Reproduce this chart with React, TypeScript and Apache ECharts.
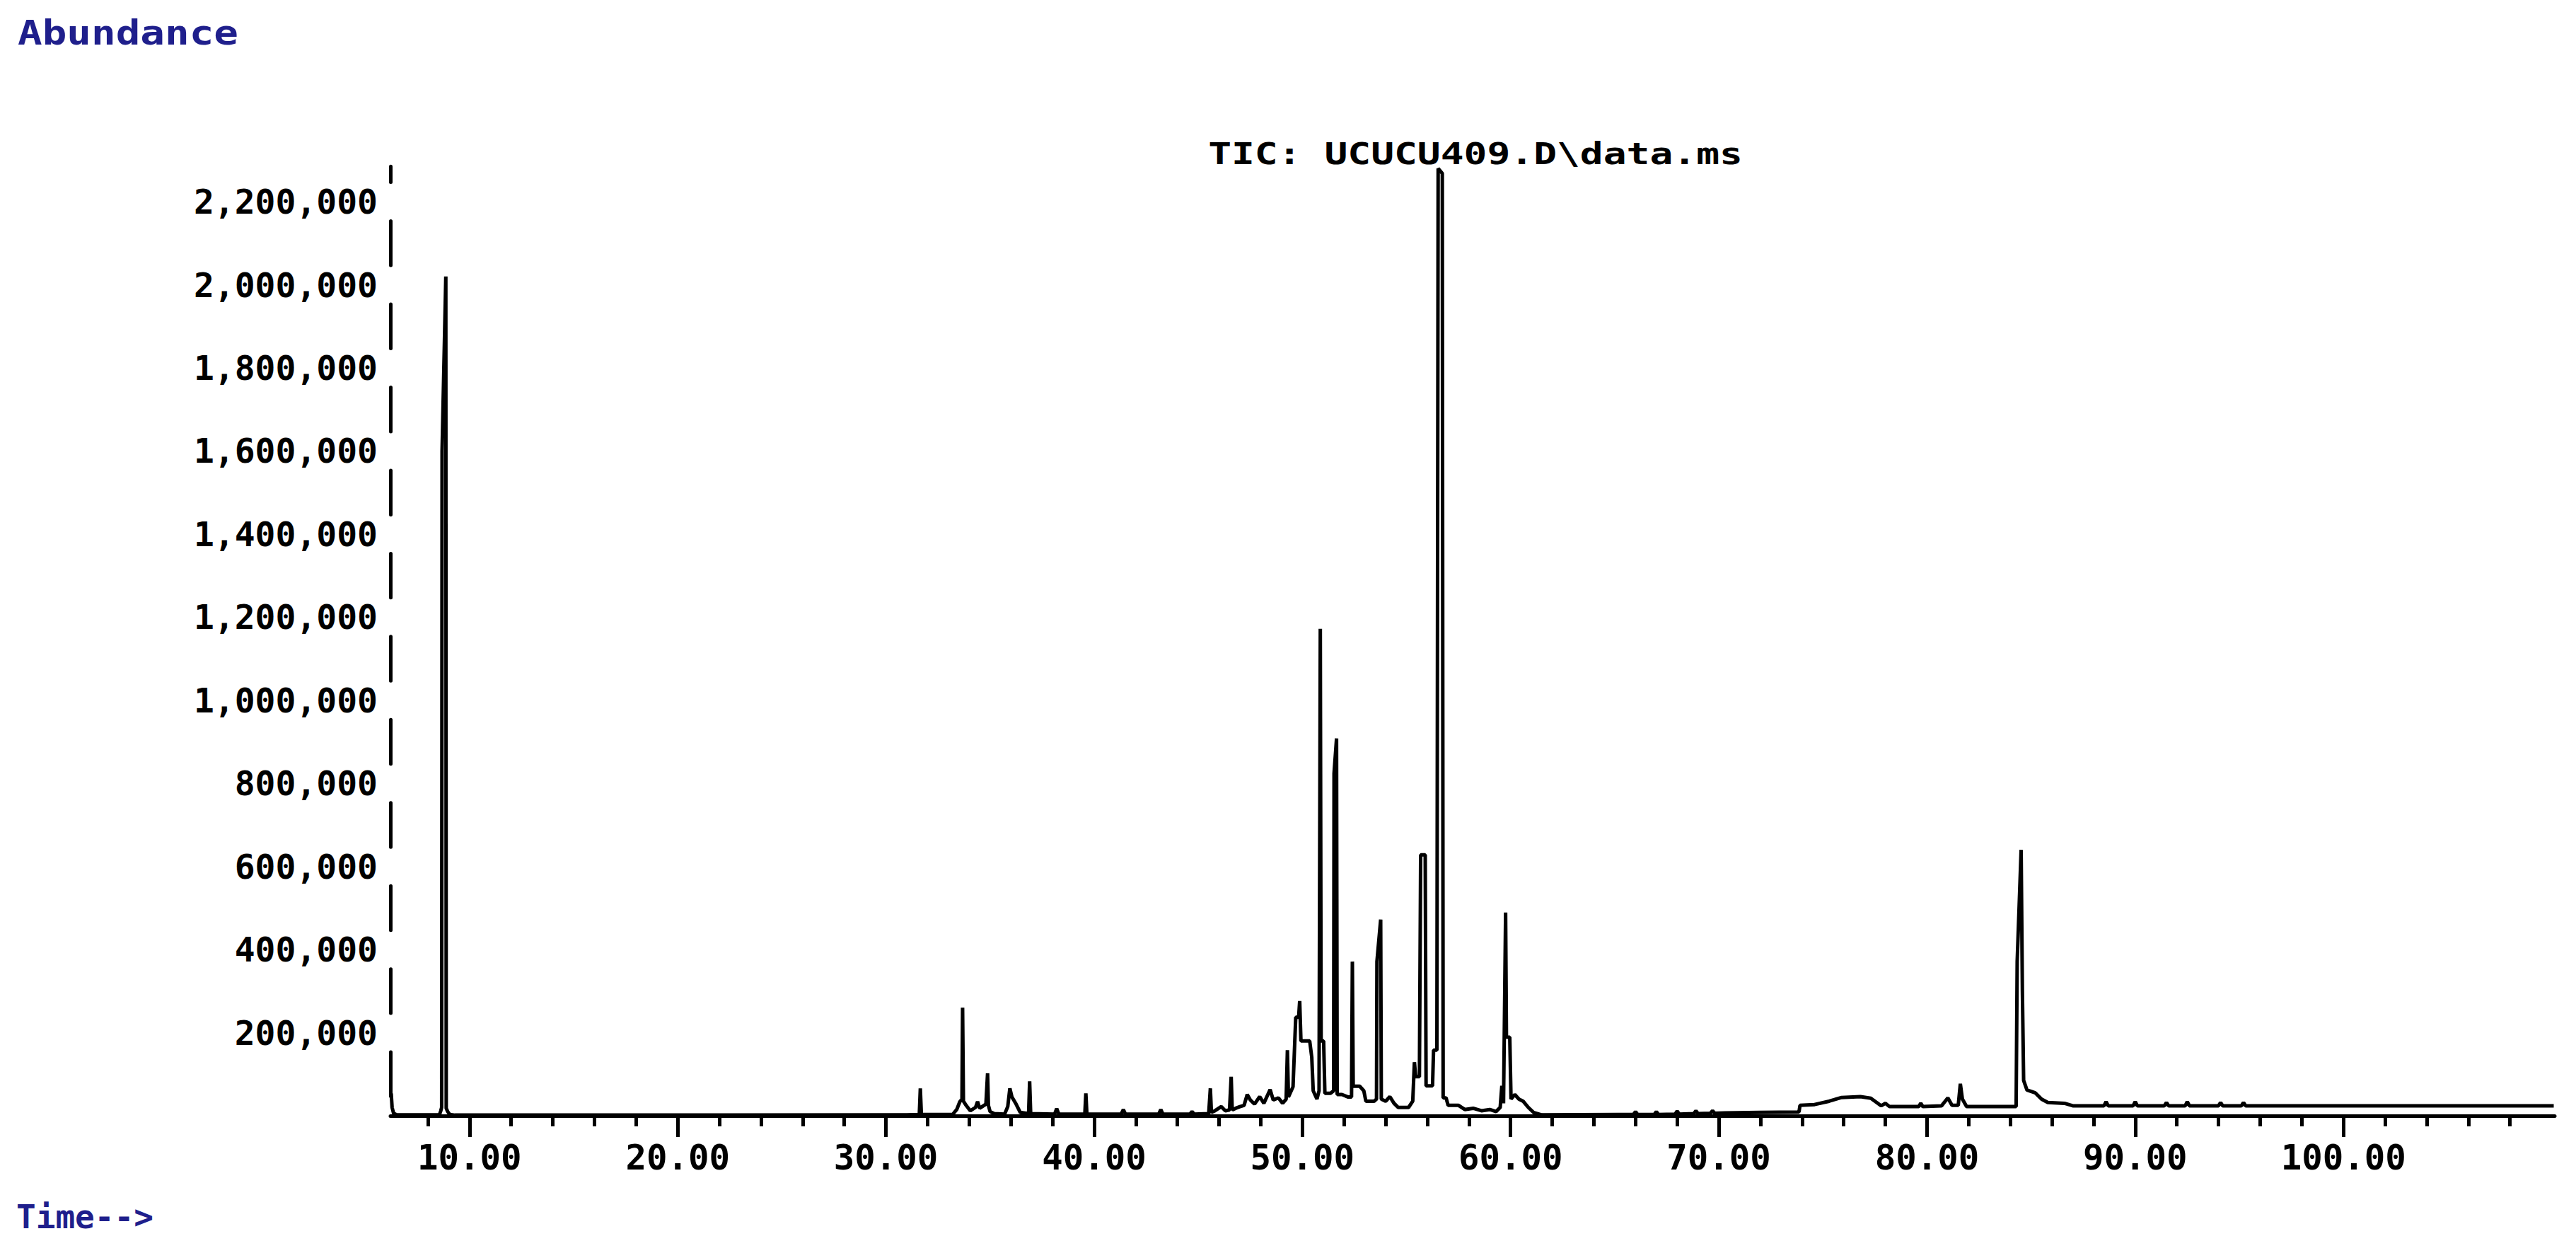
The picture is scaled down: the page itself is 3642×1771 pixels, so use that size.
import React, { useEffect, useRef } from "react";
import * as echarts from "echarts";

// ---- Data: [retention time (min), abundance] ----
const solventFront: number[][] = [
  [6.2, 55000], [6.24, 52000], [6.28, 20000], [6.35, 6000], [6.5, 2000],
  [8.55, 2000], [8.62, 12000], [8.66, 20000], [8.68, 1600000], [8.86, 2020000],
  [8.88, 18000], [8.95, 10000], [9.05, 3000], [9.3, 1500],
];

const earlyPeaks: number[][] = [
  [20.0, 1500], [31.0, 2000], [31.6, 3000], [31.65, 66000], [31.7, 3000],
  [33.2, 3000], [33.4, 15000], [33.55, 34000], [33.65, 40000], [33.68, 260000],
  [33.72, 35000], [33.85, 25000], [34.05, 12000], [34.3, 20000], [34.4, 34000],
  [34.5, 18000], [34.8, 28000], [34.88, 102000], [34.92, 25000], [35.0, 10000],
  [35.2, 5000], [35.7, 4000], [35.85, 22000], [35.95, 66000], [36.05, 45000],
  [36.25, 28000], [36.45, 8000], [36.85, 5000], [36.9, 83000], [36.95, 5000],
  [38.1, 4000], [38.2, 17000], [38.3, 4000], [39.55, 4000], [39.6, 54000],
  [39.65, 4000], [41.3, 4000], [41.4, 15000], [41.5, 4000], [43.1, 4000],
  [43.2, 15000], [43.3, 4000], [44.6, 4000], [44.7, 10000], [44.8, 4000],
  [45.5, 5000], [45.58, 66000], [45.63, 8000], [45.8, 12000], [46.1, 22000],
  [46.3, 12000], [46.5, 14000], [46.58, 94000], [46.63, 14000], [46.8, 18000],
  [47.0, 22000],
];

const mainCluster: number[][] = [
  [47.2, 25000], [47.35, 51000], [47.5, 38000], [47.7, 28000], [47.95, 46000],
  [48.15, 30000], [48.45, 63000], [48.6, 38000], [48.85, 43000], [49.05, 30000],
  [49.22, 40000], [49.28, 158000], [49.33, 45000], [49.55, 70000], [49.68, 237000],
  [49.82, 237000], [49.87, 276000], [49.93, 180000], [50.35, 180000], [50.45, 141000],
  [50.52, 60000], [50.7, 40000], [50.8, 60000], [50.86, 1172000], [50.9, 180000],
  [51.02, 180000], [51.08, 54000], [51.35, 54000], [51.5, 60000], [51.52, 824000],
  [51.64, 908000], [51.67, 51000], [51.9, 51000], [52.2, 45000], [52.36, 45000],
  [52.4, 371000], [52.44, 71000], [52.75, 71000], [52.95, 60000], [53.05, 35000],
  [53.45, 35000], [53.56, 40000], [53.58, 371000], [53.76, 472000], [53.79, 40000],
  [54.0, 35000], [54.2, 46000], [54.4, 30000], [54.6, 20000], [55.1, 20000],
  [55.3, 35000], [55.38, 129000], [55.44, 94000], [55.62, 94000], [55.68, 628000],
  [55.9, 628000], [55.94, 72000], [56.25, 72000], [56.3, 158000], [56.46, 158000],
  [56.52, 2280000], [56.72, 2268000], [56.76, 43000], [56.9, 43000], [57.0, 25000],
  [57.5, 25000], [57.8, 15000], [58.2, 18000], [58.6, 12000], [59.0, 15000],
  [59.3, 10000], [59.5, 20000], [59.58, 72000], [59.66, 30000], [59.76, 489000],
  [59.8, 189000], [59.96, 189000], [60.02, 40000], [60.2, 51000], [60.4, 40000],
  [60.6, 35000], [60.85, 20000], [61.1, 8000], [61.5, 2000],
];

const latePeaks: number[][] = [
  [65.9, 3000], [66.0, 10000], [66.1, 3000], [66.9, 3000], [67.0, 10000],
  [67.1, 3000], [67.9, 4000], [68.0, 11000], [68.1, 4000], [68.8, 5000],
  [68.9, 12000], [69.0, 5000], [69.6, 6000], [69.7, 12000], [69.8, 6000],
  [70.3, 7000], [72.0, 8000], [73.85, 9000], [73.9, 25000], [74.6, 27000],
  [75.3, 35000], [75.9, 44000], [76.8, 46000], [77.3, 42000], [77.8, 24000],
  [78.0, 30000], [78.2, 22000], [79.6, 22000], [79.7, 30000], [79.8, 22000],
  [80.7, 24000], [81.0, 43000], [81.2, 25000], [81.5, 25000], [81.6, 77000],
  [81.7, 40000], [81.9, 22000], [84.28, 22000], [84.33, 371000], [84.52, 640000],
  [84.58, 300000], [84.64, 85000], [84.8, 62000], [85.2, 55000], [85.5, 40000],
  [85.8, 32000], [86.6, 30000], [87.0, 24000], [88.5, 24000], [88.6, 34000],
  [88.7, 24000], [89.9, 24000], [90.0, 34000], [90.1, 24000], [91.4, 24000],
  [91.5, 32000], [91.6, 24000], [92.4, 24000], [92.5, 34000], [92.6, 24000],
  [94.0, 24000], [94.1, 32000], [94.2, 24000], [95.1, 24000], [95.2, 32000],
  [95.3, 24000], [110.1, 24000],
];

const xMajorTicks = [10, 20, 30, 40, 50, 60, 70, 80, 90, 100];
const xMinorTicks = [
  8, 12, 14, 16, 18, 22, 24, 26, 28, 32, 34, 36, 38, 42, 44, 46, 48, 52, 54, 56, 58,
  62, 64, 66, 68, 72, 74, 76, 78, 82, 84, 86, 88, 92, 94, 96, 98, 102, 104, 106, 108,
];
const yTicks = [200000, 400000, 600000, 800000, 1000000, 1200000, 1400000, 1600000, 1800000, 2000000, 2200000];

const X_MIN = 6.2;
const X_MAX = 110.15;
const Y_MAX = 2285000;

const MONO = "'DejaVu Sans Mono', 'Liberation Mono', monospace";

function withCommas(v: number): string {
  return String(Math.round(v)).replace(/\B(?=(\d{3})+(?!\d))/g, ",");
}

export default function App() {
  const ref = useRef<HTMLDivElement>(null);

  useEffect(() => {
    if (!ref.current) return;
    const chart = echarts.init(ref.current, undefined, { renderer: "svg" });
    const data = [...solventFront, ...earlyPeaks, ...mainCluster, ...latePeaks];
    const tickLine = { color: "#000", width: 5 };

    chart.setOption({
      animation: false,
      backgroundColor: "#ffffff",
      grid: {
        left: 552,
        right: 30,
        top: 235.2,
        bottom: 194,
        containLabel: false,
        outerBoundsMode: "none",
      },
      xAxis: [
        {
          type: "value",
          min: X_MIN,
          max: X_MAX,
          position: "bottom",
          axisLine: { show: true, lineStyle: { color: "#000", width: 5 } },
          axisTick: { show: true, customValues: xMajorTicks, length: 30, lineStyle: tickLine },
          axisLabel: {
            customValues: xMajorTicks,
            formatter: (v: number) => v.toFixed(2),
            margin: 35,
            fontFamily: MONO,
            fontSize: 49,
            fontWeight: "bold",
            color: "#000",
          },
          splitLine: { show: false },
        },
        {
          type: "value",
          min: X_MIN,
          max: X_MAX,
          position: "bottom",
          axisLine: { show: false },
          axisTick: { show: true, customValues: xMinorTicks, length: 15, lineStyle: tickLine },
          axisLabel: { show: false },
          splitLine: { show: false },
        },
      ],
      yAxis: {
        type: "value",
        min: 0,
        max: Y_MAX,
        interval: 200000,
        axisLine: {
          show: true,
          lineStyle: { color: "#000", width: 5, type: [62.45, 55], dashOffset: 89.95 },
        },
        axisTick: { show: false },
        axisLabel: {
          customValues: yTicks,
          formatter: (v: number) => withCommas(v),
          margin: 18,
          fontFamily: MONO,
          fontSize: 48,
          fontWeight: "bold",
          color: "#000",
        },
        splitLine: { show: false },
      },
      graphic: [
        {
          type: "text",
          x: 25,
          y: 47,
          scaleX: 1.2,
          style: {
            text: "Abundance",
            fill: "#1f1f8c",
            font: `bold 48px ${MONO}`,
            align: "left",
            verticalAlign: "middle",
          },
        },
        {
          type: "text",
          x: 2086,
          y: 217,
          scaleX: 1.3,
          style: {
            text: "TIC: UCUCU409.D\\data.ms",
            fill: "#000",
            font: `bold 42px ${MONO}`,
            align: "center",
            verticalAlign: "middle",
          },
        },
        {
          type: "text",
          x: 23,
          y: 1720,
          style: {
            text: "Time-->",
            fill: "#1f1f8c",
            font: `bold 46px ${MONO}`,
            align: "left",
            verticalAlign: "middle",
          },
        },
      ],
      series: [
        {
          type: "line",
          xAxisIndex: 0,
          yAxisIndex: 0,
          data,
          symbol: "none",
          showSymbol: false,
          lineStyle: { color: "#000", width: 5, join: "bevel" },
          silent: true,
        },
      ],
    });

    return () => chart.dispose();
  }, []);

  return (
    <div
      ref={ref}
      style={{ position: "fixed", left: 0, top: 0, width: 3642, height: 1771, background: "#fff" }}
    />
  );
}
